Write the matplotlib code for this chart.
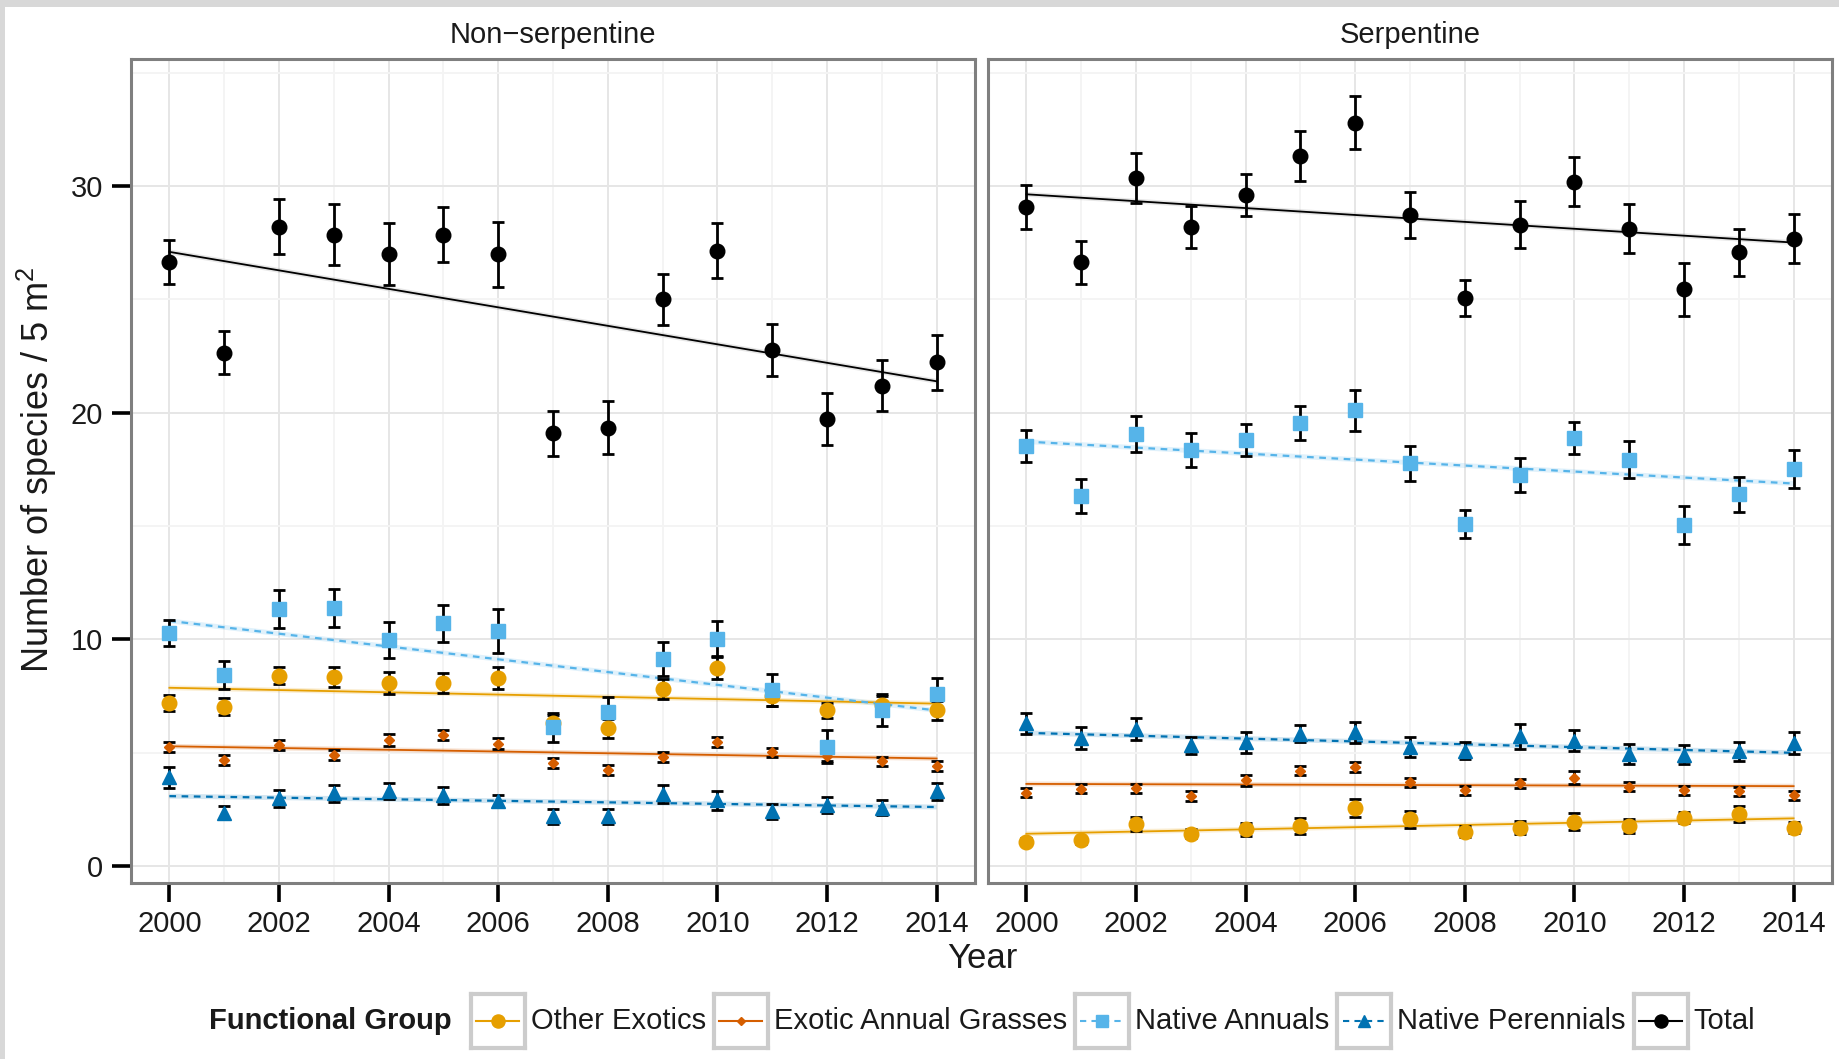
import numpy as np
import matplotlib
matplotlib.use('Agg')
import matplotlib.pyplot as plt
from matplotlib.patches import Rectangle

plt.rcParams['font.family'] = ['Liberation Sans', 'DejaVu Sans']
plt.rcParams['mathtext.fontset'] = 'custom'
plt.rcParams['mathtext.rm'] = 'Liberation Sans'
plt.rcParams['mathtext.it'] = 'Liberation Sans:italic'

# ---- data ----
years = [2000, 2001, 2002, 2003, 2004, 2005, 2006, 2007, 2008, 2009, 2010, 2011, 2012, 2013, 2014]
groups = ['Other Exotics', 'Exotic Annual Grasses', 'Native Annuals', 'Native Perennials', 'Total']
panels = ['Non\u2212serpentine', 'Serpentine']

ns_other = [7.18, 7.02, 8.39, 8.33, 8.08, 8.08, 8.30, 6.30, 6.07, 7.82, 8.75, 7.48, 6.86, 7.11, 6.86]
ns_other_se = [0.35, 0.37, 0.38, 0.44, 0.48, 0.44, 0.48, 0.35, 0.43, 0.44, 0.50, 0.41, 0.35, 0.38, 0.43]
ns_grass = [5.25, 4.69, 5.35, 4.90, 5.56, 5.79, 5.40, 4.56, 4.25, 4.79, 5.47, 5.01, 4.84, 4.62, 4.41]
ns_grass_se = [0.24, 0.22, 0.22, 0.22, 0.26, 0.22, 0.24, 0.22, 0.22, 0.22, 0.24, 0.20, 0.20, 0.20, 0.20]
ns_nat_ann = [10.26, 8.43, 11.35, 11.39, 9.97, 10.70, 10.37, 6.11, 6.80, 9.13, 10.00, 7.76, 5.26, 6.89, 7.58]
ns_nat_ann_se = [0.57, 0.62, 0.84, 0.84, 0.78, 0.82, 0.96, 0.65, 0.65, 0.75, 0.79, 0.70, 0.74, 0.70, 0.73]
ns_nat_per = [3.91, 2.35, 2.98, 3.20, 3.30, 3.11, 2.86, 2.20, 2.20, 3.18, 2.89, 2.42, 2.68, 2.57, 3.30]
ns_nat_per_se = [0.45, 0.29, 0.37, 0.36, 0.35, 0.37, 0.28, 0.33, 0.33, 0.41, 0.40, 0.33, 0.36, 0.32, 0.38]
ns_total = [26.65, 22.65, 28.19, 27.85, 26.99, 27.85, 26.99, 19.09, 19.34, 24.99, 27.15, 22.76, 19.71, 21.19, 22.22]
ns_total_se = [0.96, 0.95, 1.21, 1.35, 1.36, 1.22, 1.43, 1.00, 1.18, 1.13, 1.22, 1.13, 1.14, 1.13, 1.21]

s_other = [1.07, 1.14, 1.86, 1.42, 1.61, 1.76, 2.54, 2.05, 1.51, 1.69, 1.95, 1.76, 2.13, 2.30, 1.69]
s_other_se = [0.15, 0.15, 0.30, 0.20, 0.30, 0.35, 0.40, 0.37, 0.25, 0.30, 0.37, 0.30, 0.25, 0.35, 0.25]
s_grass = [3.23, 3.40, 3.42, 3.08, 3.77, 4.21, 4.35, 3.70, 3.34, 3.64, 3.89, 3.49, 3.34, 3.30, 3.12]
s_grass_se = [0.20, 0.20, 0.20, 0.22, 0.26, 0.20, 0.22, 0.20, 0.20, 0.20, 0.28, 0.20, 0.20, 0.20, 0.20]
s_nat_ann = [18.53, 16.30, 19.04, 18.35, 18.79, 19.53, 20.10, 17.76, 15.10, 17.25, 18.88, 17.93, 15.03, 16.39, 17.50]
s_nat_ann_se = [0.70, 0.75, 0.79, 0.75, 0.70, 0.74, 0.90, 0.77, 0.62, 0.74, 0.72, 0.82, 0.83, 0.78, 0.83]
s_nat_per = [6.30, 5.65, 6.04, 5.32, 5.45, 5.84, 5.89, 5.25, 5.09, 5.72, 5.53, 4.94, 4.91, 5.06, 5.43]
s_nat_per_se = [0.46, 0.48, 0.48, 0.37, 0.48, 0.39, 0.48, 0.43, 0.39, 0.56, 0.48, 0.43, 0.43, 0.43, 0.48]
s_total = [29.06, 26.63, 30.35, 28.19, 29.59, 31.31, 32.79, 28.71, 25.07, 28.29, 30.19, 28.12, 25.43, 27.07, 27.66]
s_total_se = [0.96, 0.96, 1.10, 0.92, 0.93, 1.09, 1.18, 1.00, 0.79, 1.04, 1.09, 1.08, 1.18, 1.05, 1.08]

# fitted trend values at 2000 and 2014
ns_trend = [(7.86, 7.16), (5.28, 4.74), (10.81, 6.86), (3.08, 2.60), (27.09, 21.38)]
s_trend = [(1.42, 2.10), (3.62, 3.52), (18.72, 16.87), (5.87, 4.99), (29.63, 27.50)]

# ---- styles ----
colors = ['#E69F00', '#D55E00', '#56B4E9', '#0072B2', '#000000']
halo = ['#E69F00', '#D55E00', '#56B4E9', '#0072B2', '#777777']
markers = ['o', 'D', 's', '^', 'o']
msizes = [10.5, 5, 10, 10, 10.5]
lstyles = ['-', '-', (0, (3, 2.5)), (0, (3, 2.5)), '-']
txtc = '#1a1a1a'

W, H = 1839, 1059
fig = plt.figure(figsize=(W / 100, H / 100), dpi=100)


def px_axes(x0, y0, x1, y1):
    return fig.add_axes([x0 / W, 1 - y1 / H, (x1 - x0) / W, (y1 - y0) / H])


# screenshot frame bits
fig.patches.append(Rectangle((0, 1 - 7 / H), 1, 7 / H, transform=fig.transFigure,
                             facecolor='#d8d8d8', edgecolor='none', zorder=0))
fig.patches.append(Rectangle((0, 0), 5 / W, 1, transform=fig.transFigure,
                             facecolor='#d8d8d8', edgecolor='none', zorder=0))

panel_data = [
    ([ns_other, ns_grass, ns_nat_ann, ns_nat_per, ns_total],
     [ns_other_se, ns_grass_se, ns_nat_ann_se, ns_nat_per_se, ns_total_se], ns_trend),
    ([s_other, s_grass, s_nat_ann, s_nat_per, s_total],
     [s_other_se, s_grass_se, s_nat_ann_se, s_nat_per_se, s_total_se], s_trend),
]
rects = [(131, 58.5, 975, 882.5), (988, 58.5, 1832, 882.5)]

for k, (means, ses, trends) in enumerate(panel_data):
    ax = px_axes(*rects[k])
    ax.set_xlim(1999.3, 2014.7)
    ax.set_ylim(-0.73, 35.62)
    ax.set_xticks(years[::2])
    ax.set_xticks(years[1::2], minor=True)
    ax.set_yticks([0, 10, 20, 30])
    ax.set_yticks([5, 15, 25, 35], minor=True)
    ax.grid(which='major', color='#e6e6e6', lw=1.4)
    ax.grid(which='minor', color='#f4f4f4', lw=1.4)
    ax.set_axisbelow(True)
    for sp in ax.spines.values():
        sp.set_color('#7f7f7f')
        sp.set_linewidth(2.2)
    ax.tick_params(which='major', length=14, width=2.6, color='black',
                   labelsize=21, labelcolor=txtc, pad=6)
    ax.tick_params(which='minor', length=0)
    if k == 1:
        ax.tick_params(axis='y', which='both', left=False, labelleft=False)

    for i in range(len(groups)):
        tx = [years[0], years[-1]]
        ty = list(trends[i])
        ax.plot(tx, ty, color=halo[i], lw=3.5, alpha=0.18, solid_capstyle='butt', zorder=2)
        ax.plot(tx, ty, color=colors[i], lw=1.6 if i in (2, 3) else 1.3, ls=lstyles[i], zorder=2.1)
    for i in range(len(groups)):
        ax.errorbar(years, means[i], yerr=ses[i], fmt='none', ecolor='black',
                    elinewidth=2, capsize=4, capthick=2, zorder=3)
    for i in range(len(groups)):
        ax.plot(years, means[i], ls='none', marker=markers[i], ms=msizes[i],
                color=colors[i], mec=colors[i], zorder=4 + i)

    x0, _, x1, _ = rects[k]
    fig.text((x0 + x1) / 2 / W, 1 - 35 / H, panels[k], ha='center', va='center',
             fontsize=21, color=txtc)

fig.text(37 / W, 1 - 470 / H, 'Number of species / 5 m$^2$', rotation=90,
         ha='center', va='center', fontsize=26, color=txtc)
fig.text(982 / W, 1 - 958 / H, 'Year', ha='center', va='center', fontsize=25, color=txtc)

# ---- legend, laid out left to right like ggplot's bottom guide ----
fig.canvas.draw()
rend = fig.canvas.get_renderer()
ly = 1021
box = 54
t = fig.text(209 / W, 1 - ly / H, 'Functional Group', fontweight='bold', fontsize=21,
             ha='left', va='center', color=txtc)
xpos = t.get_window_extent(rend).x1 + 19
for i, g in enumerate(groups):
    kax = px_axes(xpos, ly - box / 2, xpos + box, ly + box / 2)
    kax.set_xlim(0, 1)
    kax.set_ylim(0, 1)
    kax.set_xticks([])
    kax.set_yticks([])
    for sp in kax.spines.values():
        sp.set_color('#cccccc')
        sp.set_linewidth(3)
    kax.plot([0.1, 0.9], [0.5, 0.5], color=colors[i], lw=1.5, ls=lstyles[i])
    kax.plot([0.5], [0.5], marker=markers[i], ms=msizes[i] * 0.9, color=colors[i], ls='none')
    lt = fig.text((xpos + box + 6) / W, 1 - ly / H, g, fontsize=21, ha='left',
                  va='center', color=txtc)
    xpos = lt.get_window_extent(rend).x1 + 8

fig.savefig('out.png', dpi=100, facecolor='white')
